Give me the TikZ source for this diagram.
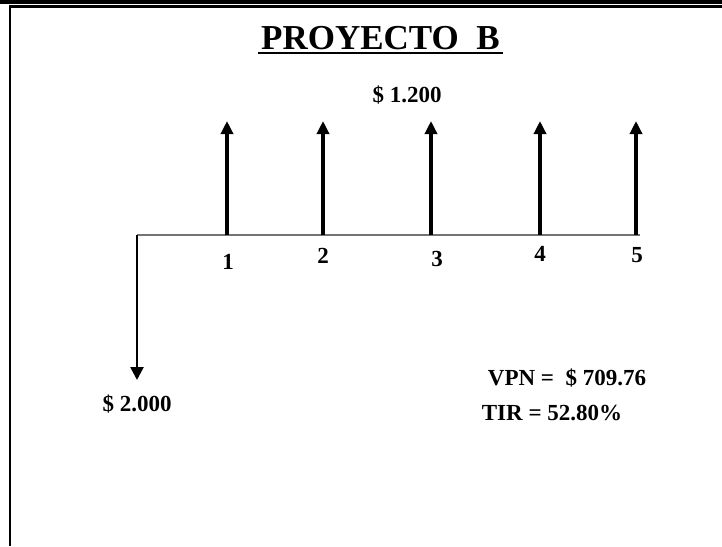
\documentclass[tikz,border=0pt]{standalone}
\usepackage{fontspec}
\setmainfont{Liberation Serif}
\usetikzlibrary{arrows.meta}
\begin{document}
\begin{tikzpicture}[x=1pt,y=-1pt,
  lbl/.style={font=\fontsize{23}{26}\selectfont\bfseries, inner sep=0pt},
  upflow/.style={line width=4pt, -{Triangle[width=12pt,length=13pt]}},
  downflow/.style={line width=2.6pt, -{Triangle[width=13pt,length=13pt]}},
  axisline/.style={line width=1.3pt, draw=black!55},
  frameline/.style={line width=2.6pt, draw=black}]
\useasboundingbox (0,0) rectangle (722,546);
% frame
\draw[line width=3.6pt] (0,1.8) -- (722,1.8);
\draw[frameline] (10,6.5) -- (722,6.5);
\draw[frameline] (10,5.2) -- (10,546);
% title
\node[font=\fontsize{35}{38}\selectfont\bfseries, inner sep=0pt, anchor=base] (title) at (380.5,49) {PROYECTO\ \ B};
\draw[line width=2.2pt] (258,53) -- (503,53);
% timeline
\coordinate (t0) at (137,235);
\coordinate (t5) at (640,235);
\draw[axisline] (t0) -- (t5);
\coordinate (d0) at (137,234.5);
\coordinate (d1) at (137,380);
\draw[downflow] (d0) -- (d1);
\foreach \i/\x in {1/227,2/323,3/431,4/540,5/636}{
  \coordinate (b\i) at (\x,235);
  \coordinate (u\i) at (\x,121);
  \draw[upflow] (b\i) -- (u\i);
}
% period labels
\node[lbl] (n1) at (228,262) {1};
\node[lbl] (n2) at (323,256) {2};
\node[lbl] (n3) at (437,259) {3};
\node[lbl] (n4) at (540,254) {4};
\node[lbl] (n5) at (637,255) {5};
% amounts
\node[lbl] (inflow) at (407,95) {\$ 1.200};
\node[lbl] (outflow) at (137,404) {\$ 2.000};
\node[lbl] (vpn) at (567,378) {VPN =\ \ \$ 709.76};
\node[lbl] (tir) at (552,413) {TIR = 52.80\%};
\end{tikzpicture}
\end{document}
